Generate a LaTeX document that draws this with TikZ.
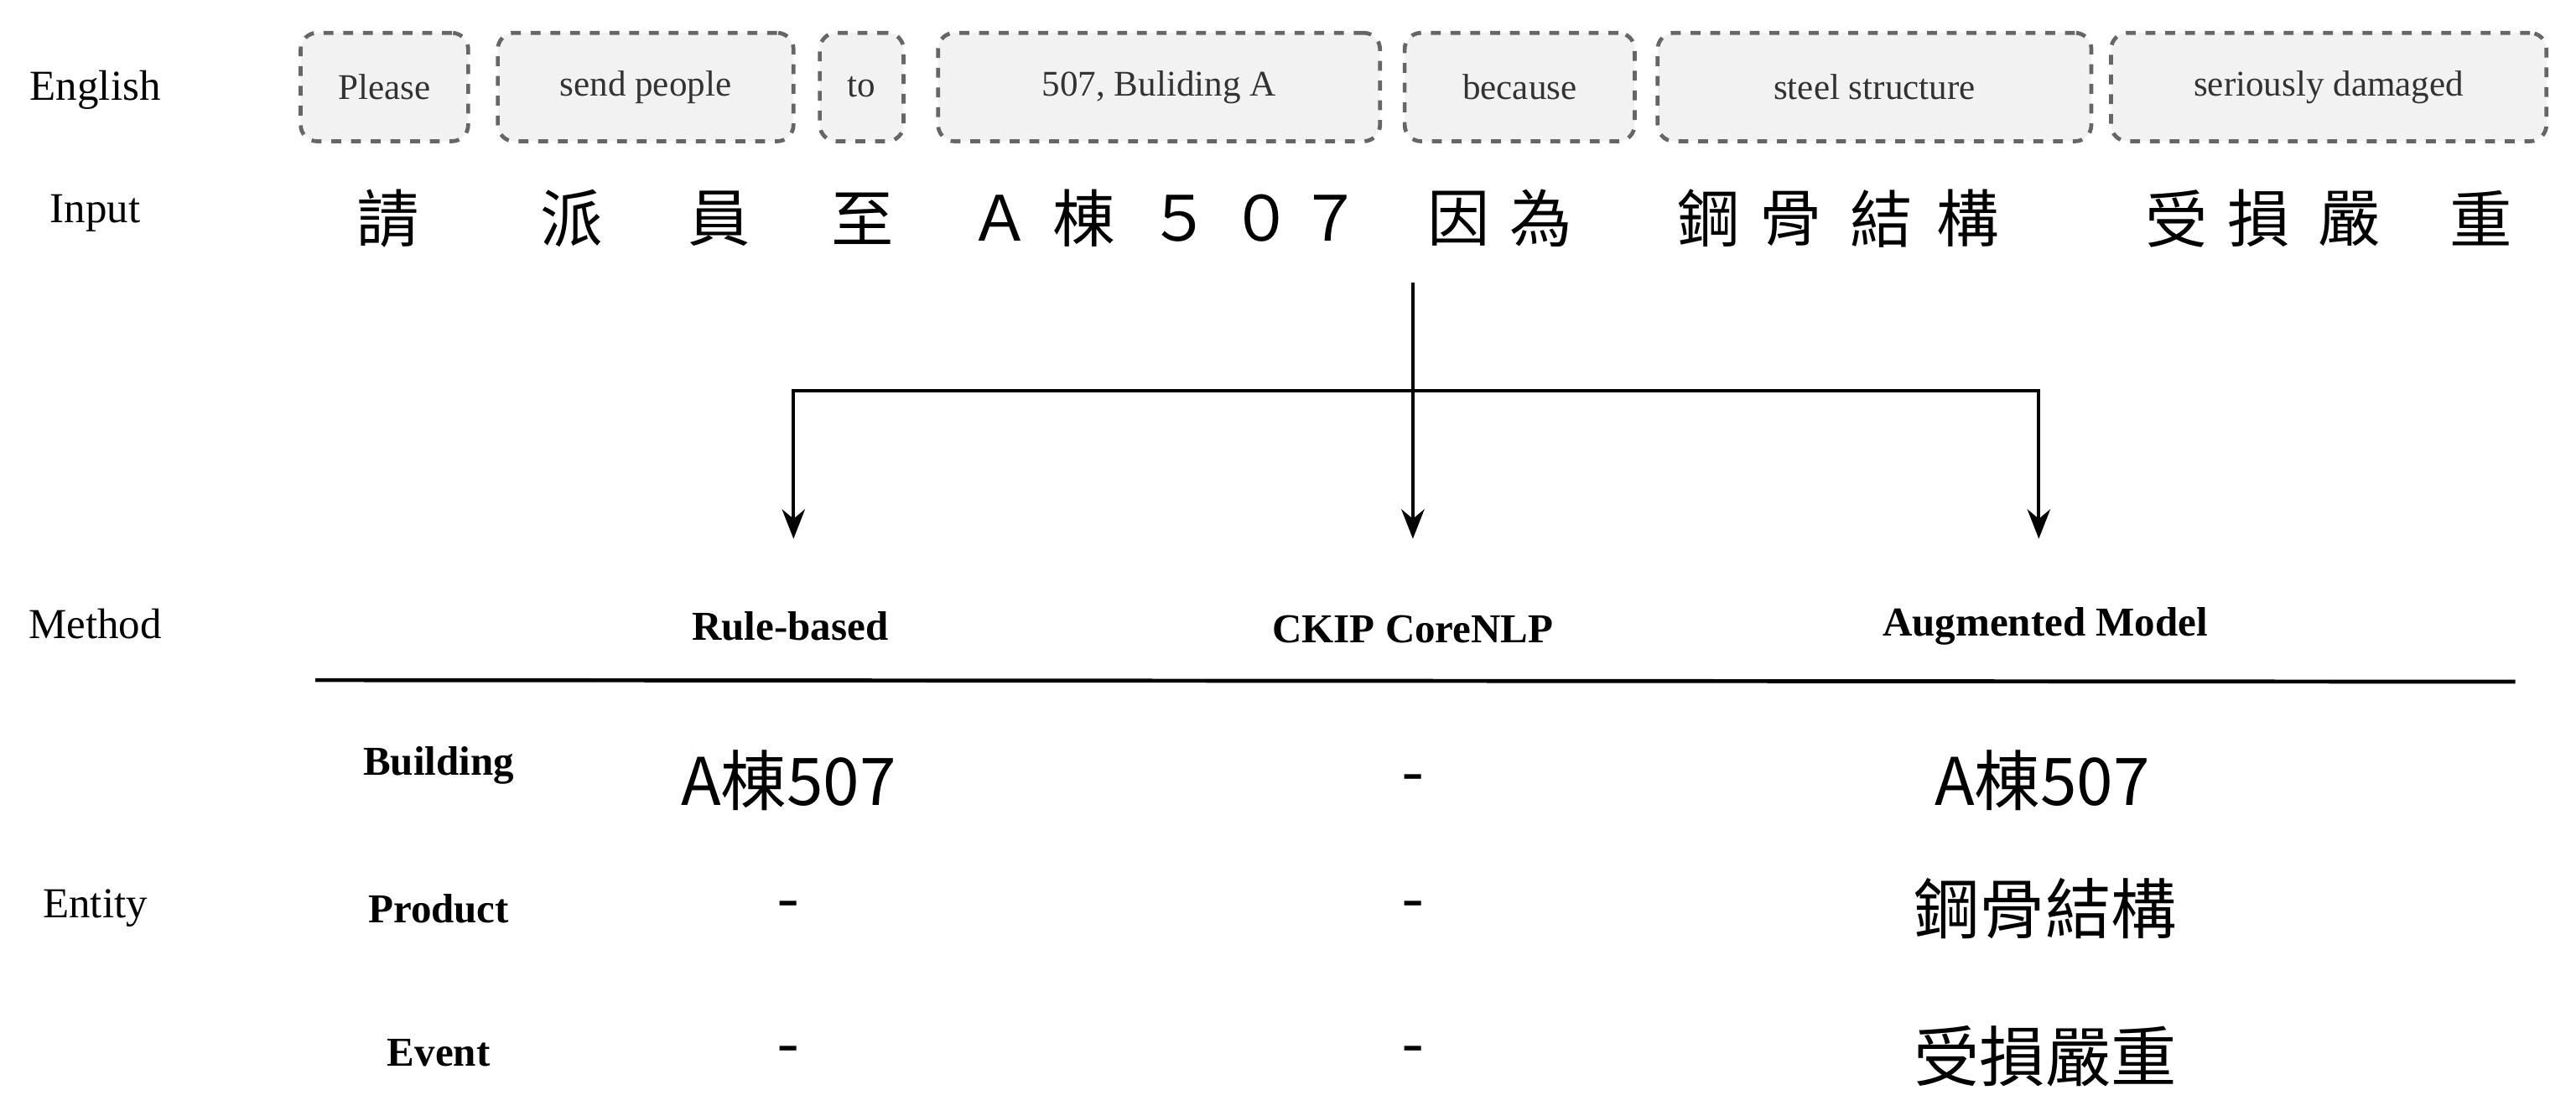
\documentclass[tikz,border=0pt]{standalone}
\usepackage{fontspec}
\usetikzlibrary{arrows.meta}
\setmainfont{Liberation Serif}
\newfontfamily\cjk{Noto Sans CJK TC}
\begin{document}
\begin{tikzpicture}[x=0.5pt,y=-0.5pt,
 eng/.style={draw=black!60,fill=black!5,dashed,line width=1.2pt,rounded corners=5pt,minimum height=33pt,text=black!80,font=\fontsize{11}{12}\selectfont,inner sep=0pt},
 lab/.style={font=\fontsize{13}{14}\selectfont},
 ch/.style={font=\cjk\fontsize{19}{20}\selectfont},
 hd/.style={font=\bfseries\fontsize{12.5}{14}\selectfont},
 cell/.style={font=\cjk\fontsize{20}{22}\selectfont},
 arr/.style={-{Stealth[length=9pt,width=7pt]},line width=1pt}]
\useasboundingbox (0,0) rectangle (1568,679);
\node[lab] (le) at (58,55) {English};
\node[lab] (li) at (58,130) {Input};
\node[lab] (lm) at (58,380) {Method};
\node[lab] (len) at (58,553) {Entity};
\node[eng,minimum width=51pt] (e1) at (234,53) {Please};
\node[eng,minimum width=90pt] (e2) at (393,53) {send people};
\node[eng,minimum width=25.5pt] (e3) at (524.5,53) {to};
\node[eng,minimum width=134.5pt] (e4) at (705.5,53) {507, Buliding A};
\node[eng,minimum width=70pt] (e5) at (925,53) {because};
\node[eng,minimum width=132pt] (e6) at (1141,53) {steel structure};
\node[eng,minimum width=132.5pt] (e7) at (1417.5,53) {seriously damaged};
\foreach \c/\x [count=\i] in {請/236,派/348,員/438,至/525,Ａ/609,棟/660,５/718,０/768,７/810,因/888,為/938,鋼/1040,骨/1090,結/1145,構/1198,受/1325,損/1375,嚴/1430,重/1510}
  \node[ch] (c\i) at (\x,133) {\c};
\coordinate (top) at (860,172);
\coordinate (j) at (860,238);
\node[hd] (m1) at (481,381) {Rule-based};
\node[hd] (m2) at (860,383) {CKIP CoreNLP};
\node[hd] (m3) at (1245,381) {Augmented Model};
\coordinate (t1) at (483,328);
\coordinate (t2) at (860,328);
\coordinate (t3) at (1241,328);
\draw[arr] (top) -- (t2);
\draw[arr] (j) -| (t1);
\draw[arr] (j) -| (t3);
\coordinate (r0) at (192,414);
\coordinate (r1) at (1531,415);
\draw[line width=1.2pt] (r0) -- (r1);
\node[hd] (b) at (267,466) {Building};
\node[hd] (p) at (267,553) {Product};
\node[hd] (ev) at (267,641) {Event};
\node[cell] (x11) at (480,475) {A棟507};
\node[cell] (x12) at (860,478) {-};
\node[cell] (x13) at (1243,475) {A棟507};
\node[cell] (x21) at (480,555) {-};
\node[cell] (x22) at (860,555) {-};
\node[cell] (x23) at (1245,553) {鋼骨結構};
\node[cell] (x31) at (480,643) {-};
\node[cell] (x32) at (860,643) {-};
\node[cell] (x33) at (1245,643) {受損嚴重};
\end{tikzpicture}
\end{document}
